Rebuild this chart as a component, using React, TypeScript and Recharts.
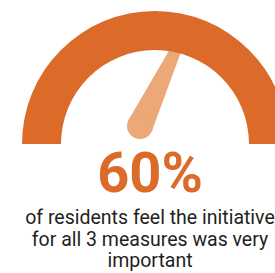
import { PieChart, Pie, Cell, Customized } from "recharts";

const gaugeTrack = [{ name: "scale", value: 100 }];
const shareValue = [60];
const headline = ["60%"];
const captionLines = [
  "of residents feel the initiative",
  "for all 3 measures was very",
  "important",
];

const ORANGE = "#dc6a28";
const NEEDLE = "#eda877";
const CX = 150;
const CY = 139;

function Needle() {
  const value = shareValue[0];
  const angle = ((180 - (value / 100) * 180) * Math.PI) / 180;
  const tipR = 116;
  const tx = CX + tipR * Math.cos(angle);
  const ty = CY - tipR * Math.sin(angle);
  const bx = CX - 10;
  const by = CY - 13;
  const r1 = 13;
  const r2 = 3.5;
  const dx = tx - bx;
  const dy = ty - by;
  const len = Math.sqrt(dx * dx + dy * dy);
  const nx = -dy / len;
  const ny = dx / len;
  const pts = [
    [bx + nx * r1, by + ny * r1],
    [tx + nx * r2, ty + ny * r2],
    [tx - nx * r2, ty - ny * r2],
    [bx - nx * r1, by - ny * r1],
  ]
    .map((p) => p.join(","))
    .join(" ");

  return (
    <g>
      <polygon points={pts} fill={NEEDLE} />
      <circle cx={bx} cy={by} r={r1} fill={NEEDLE} />
      <circle cx={tx} cy={ty} r={r2} fill={NEEDLE} />
      <text
        x={CX}
        y={192}
        textAnchor="middle"
        fontFamily="Roboto, sans-serif"
        fontWeight={700}
        fontSize={56}
        fill={ORANGE}
      >
        {headline[0]}
      </text>
      {captionLines.map((line, i) => (
        <text
          key={line}
          x={CX}
          y={224 + i * 21.5}
          textAnchor="middle"
          fontFamily="Roboto, sans-serif"
          fontSize={19.5}
          fill="#231f20"
        >
          {line}
        </text>
      ))}
    </g>
  );
}

export default function App() {
  return (
    <div
      style={{
        position: "absolute",
        top: 0,
        left: 0,
        width: 275,
        height: 273,
        overflow: "hidden",
        background: "#fff",
      }}
    >
      <PieChart width={275} height={273}>
        <Pie
          data={gaugeTrack}
          dataKey="value"
          cx={CX}
          cy={CY}
          startAngle={180}
          endAngle={0}
          innerRadius={94}
          outerRadius={133}
          stroke="none"
          isAnimationActive={false}
        >
          {gaugeTrack.map((d) => (
            <Cell key={d.name} fill={ORANGE} />
          ))}
        </Pie>
        <Customized component={Needle} />
      </PieChart>
    </div>
  );
}
